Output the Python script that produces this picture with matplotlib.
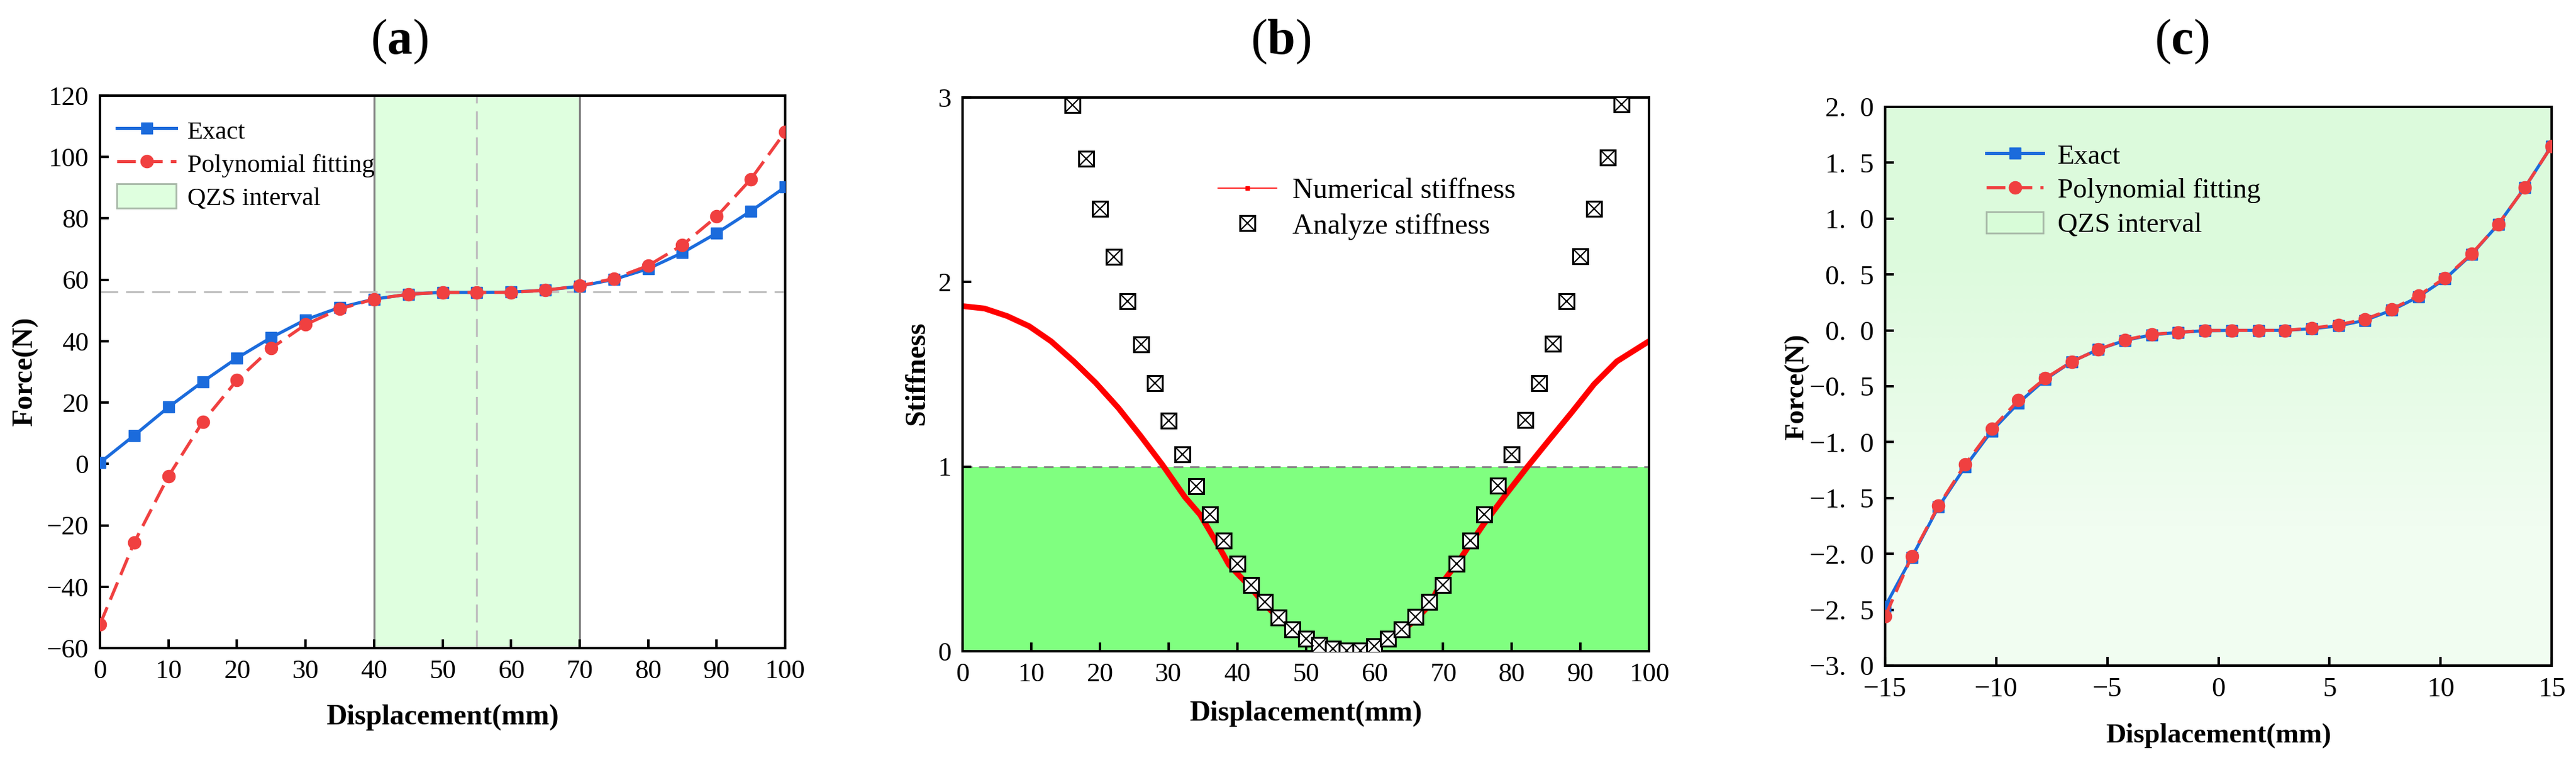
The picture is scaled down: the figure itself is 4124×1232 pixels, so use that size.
import numpy as np
import matplotlib
matplotlib.use("Agg")
import matplotlib.pyplot as plt
from matplotlib.lines import Line2D
from matplotlib.patches import Patch
from matplotlib.colors import LinearSegmentedColormap

plt.rcParams['font.family'] = ['Liberation Serif', 'DejaVu Serif']
plt.rcParams['mathtext.fontset'] = 'custom'
plt.rcParams['mathtext.rm'] = 'Liberation Serif'
plt.rcParams['mathtext.bf'] = 'Liberation Serif:bold'
plt.rcParams['axes.unicode_minus'] = True

# ---------------- data ----------------
# (a) force-displacement
a_x = [0, 5, 10, 15, 20, 25, 30, 35, 40, 45, 50, 55, 60, 65, 70, 75, 80, 85, 90, 95, 100]
a_exact = [0.4, 9.3, 18.5, 26.8, 34.5, 41.2, 47.0, 51.0, 53.7, 55.3, 55.9, 55.9, 56.0, 56.6,
           57.9, 60.1, 63.6, 68.8, 75.2, 82.4, 90.2]
a_poly = [-52.3, -25.6, -4.0, 13.7, 27.3, 37.7, 45.4, 50.5, 53.7, 55.3, 55.9, 55.9, 55.9, 56.6,
          58.0, 60.4, 64.6, 71.3, 80.6, 92.8, 108.2]
a_qzs = [40, 70]
a_eq_disp = 55
a_eq_force = 56
a_xticks = [0, 10, 20, 30, 40, 50, 60, 70, 80, 90, 100]
a_yticks = [-60, -40, -20, 0, 20, 40, 60, 80, 100, 120]

# (b) stiffness
b_num_x = [0, 3.2, 6.5, 9.7, 12.9, 16.2, 19.4, 22.7, 25.9, 29.1, 32.4, 34.6, 36.9, 38.8, 41.7,
           43.9, 46, 48, 50, 52, 54, 56, 58, 60, 62, 64, 66, 68, 69.3, 72.6, 75.8, 79.1, 82.3,
           85.5, 88.8, 92.0, 95.3, 100]
b_num_y = [1.870, 1.857, 1.816, 1.761, 1.679, 1.570, 1.454, 1.318, 1.168, 1.011, 0.835, 0.74,
           0.595, 0.469, 0.356, 0.26, 0.18, 0.115, 0.065, 0.032, 0.012, 0.003, 0.003, 0.025,
           0.062, 0.11, 0.17, 0.25, 0.342, 0.506, 0.683, 0.847, 1.0, 1.147, 1.297, 1.447,
           1.570, 1.68]
b_ana_x = [16, 18, 20, 22, 24, 26, 28, 30, 32, 34, 36, 38, 40, 42, 44, 46, 48, 50, 52, 54, 56,
           58, 60, 62, 64, 66, 68, 70, 72, 74, 76, 78, 80, 82, 84, 86, 88, 90, 92, 94, 96]
b_ana_y = [2.96, 2.667, 2.396, 2.138, 1.895, 1.664, 1.451, 1.251, 1.065, 0.895, 0.740, 0.599,
           0.474, 0.360, 0.266, 0.184, 0.120, 0.067, 0.035, 0.013, 0.005, 0.005, 0.027, 0.067,
           0.120, 0.187, 0.266, 0.360, 0.474, 0.599, 0.740, 0.897, 1.068, 1.254, 1.451, 1.667,
           1.895, 2.140, 2.398, 2.675, 2.963]
b_threshold = 1
b_xticks = [0, 10, 20, 30, 40, 50, 60, 70, 80, 90, 100]
b_yticks = [0, 1, 2, 3]

# (c) force near equilibrium
c_x = [-15, -13.8, -12.6, -11.4, -10.2, -9.0, -7.8, -6.6, -5.4, -4.2, -3.0, -1.8, -0.6,
       0.6, 1.8, 3.0, 4.2, 5.4, 6.6, 7.8, 9.0, 10.2, 11.4, 12.6, 13.8, 15]
c_exact = [-2.47, -2.03, -1.58, -1.22, -0.90, -0.65, -0.44, -0.28, -0.17, -0.09, -0.04, -0.018,
           -0.003, 0.0, 0.0, 0.0, 0.015, 0.04, 0.09, 0.18, 0.30, 0.46, 0.68, 0.95, 1.28, 1.65]
c_poly = [-2.56, -2.02, -1.57, -1.20, -0.88, -0.625, -0.43, -0.28, -0.17, -0.085, -0.035,
          -0.018, -0.001, 0.0, 0.0, 0.0, 0.02, 0.05, 0.10, 0.19, 0.31, 0.47, 0.685, 0.95,
          1.28, 1.65]
c_qzs = [-15, 15]
c_xticks = [-15, -10, -5, 0, 5, 10, 15]
c_yticks = [-3.0, -2.5, -2.0, -1.5, -1.0, -0.5, 0.0, 0.5, 1.0, 1.5, 2.0]
c_yticklabels = ["\u22123.  0", "\u22122.  5", "\u22122.  0", "\u22121.  5", "\u22121.  0",
                 "\u22120.  5", "0.  0", "0.  5", "1.  0", "1.  5", "2.  0"]

panel_titles = ["a", "b", "c"]

# ---------------- style ----------------
BLUE = "#1B6BDC"
RED = "#F04040"
W, H = 4124, 1232
fig = plt.figure(figsize=(W / 100, H / 100), dpi=100)

def frac_axes(l, r, t, b):
    return fig.add_axes([l / W, 1 - b / H, (r - l) / W, (b - t) / H])

def style_axes(ax, fs):
    for s in ax.spines.values():
        s.set_linewidth(2.8)
    ax.tick_params(direction="in", length=10, width=2.8, labelsize=fs, pad=13,
                   top=False, right=False)

# ---------------- (a) ----------------
ax = frac_axes(160, 1257, 153, 1037)
ax.axvspan(a_qzs[0], a_qzs[1], color="#DFFFDF", zorder=0, lw=0)
for v in a_qzs:
    ax.axvline(v, color="#808080", lw=2.3, zorder=1)
ax.axhline(a_eq_force, color="#C0C0C0", lw=2.3, dashes=(9, 4), zorder=1)
ax.axvline(a_eq_disp, color="#C0C0C0", lw=2.3, dashes=(9, 4), zorder=1)
ax.plot(a_x, a_exact, color=BLUE, lw=3.6, marker="s", ms=13.5, zorder=3)
ax.plot(a_x, a_poly, color=RED, lw=3.6, dashes=(6, 2.6), marker="o", ms=14.5, zorder=4)
ax.set_xlim(0, 100)
ax.set_ylim(-60, 120)
ax.set_xticks(a_xticks)
ax.set_yticks(a_yticks)
style_axes(ax, 31)
ax.set_xlabel("Displacement(mm)", fontsize=33, fontweight="bold", va="center")
ax.set_ylabel("Force(N)", fontsize=33, fontweight="bold", va="center")
ax.xaxis.set_label_coords(0.5, -0.1256)
ax.yaxis.set_label_coords(-0.109, 0.501)
hA = [Line2D([], [], color=BLUE, lw=3.6, marker="s", ms=13.5),
      Line2D([], [], color=RED, lw=3.6, dashes=(6, 2.6), marker="o", ms=14.5),
      Patch(facecolor="#DFFFDF", edgecolor="#A8B8A8", lw=2)]
ax.legend(hA, ["Exact", "Polynomial fitting", "QZS interval"], loc="upper left",
          bbox_to_anchor=(0.025, 0.96), borderaxespad=0, borderpad=0, frameon=False,
          fontsize=29.5, handlelength=2.3, handletextpad=0.45, labelspacing=0.25,
          handleheight=1.1)

# ---------------- (b) ----------------
ax = frac_axes(1541, 2640, 156, 1042)
ax.axhspan(0, b_threshold, color="#80FF80", zorder=0, lw=0)
ax.axhline(b_threshold, color="#888888", lw=2.2, dashes=(5, 3.5), zorder=1)
ax.plot(b_num_x, b_num_y, color="#FF0000", lw=6.6, solid_capstyle="butt",
        solid_joinstyle="round", zorder=2)
ax.plot(b_ana_x, b_ana_y, ls="none", marker="s", ms=17, mfc="white", mec="black", mew=2.2,
        zorder=3)
ax.plot(b_ana_x, b_ana_y, ls="none", marker="x", ms=17, mec="black", mew=1.5, zorder=4)
ax.set_xlim(0, 100)
ax.set_ylim(0, 3)
ax.set_xticks(b_xticks)
ax.set_yticks(b_yticks)
style_axes(ax, 31)
ax.set_xlabel("Displacement(mm)", fontsize=33, fontweight="bold", va="center")
ax.set_ylabel("Stiffness", fontsize=33, fontweight="bold", va="center")
ax.xaxis.set_label_coords(0.5, -0.1126)
ax.yaxis.set_label_coords(-0.0655, 0.502)
hB = [Line2D([], [], color="#FF0000", lw=1.2, marker="s", ms=5),
      (Line2D([], [], ls="none", marker="s", ms=17, mfc="white", mec="black", mew=2.2),
       Line2D([], [], ls="none", marker="x", ms=17, mec="black", mew=1.5))]
ax.legend(hB, ["Numerical stiffness", "Analyze stiffness"], loc="upper left",
          bbox_to_anchor=(0.372, 0.855), borderaxespad=0, borderpad=0, frameon=False,
          fontsize=33, handlelength=2.05, handletextpad=0.55, labelspacing=0.3)

# ---------------- (c) ----------------
ax = frac_axes(3018, 4085, 171, 1065)
cmap = LinearSegmentedColormap.from_list("qzs", ["#F1FDF1", "#DCFADC"])
ax.imshow(np.array([[1.0], [0.0]]), cmap=cmap, aspect="auto", interpolation="bilinear",
          extent=[c_qzs[0], c_qzs[1], -3, 2], zorder=0)
ax.plot(c_x, c_exact, color=BLUE, lw=3.6, marker="s", ms=13.5, zorder=3)
ax.plot(c_x, c_poly, color=RED, lw=3.6, dashes=(6, 2.6), marker="o", ms=14.5, zorder=4)
ax.set_xlim(-15, 15)
ax.set_ylim(-3, 2)
ax.set_xticks(c_xticks)
ax.set_yticks(c_yticks)
ax.set_yticklabels(c_yticklabels)
style_axes(ax, 32)
ax.set_xlabel("Displacement(mm)", fontsize=32, fontweight="bold", va="center")
ax.set_ylabel("Force(N)", fontsize=32, fontweight="bold", va="center")
ax.xaxis.set_label_coords(0.5, -0.125)
ax.yaxis.set_label_coords(-0.132, 0.499)
hC = [Line2D([], [], color=BLUE, lw=3.6, marker="s", ms=13.5),
      Line2D([], [], color=RED, lw=3.6, dashes=(6, 2.6), marker="o", ms=14.5),
      Patch(facecolor="#D8FCD8", edgecolor="#A8B8A8", lw=2)]
ax.legend(hC, ["Exact", "Polynomial fitting", "QZS interval"], loc="upper left",
          bbox_to_anchor=(0.152, 0.935), borderaxespad=0, borderpad=0, frameon=False,
          fontsize=32, handlelength=2.05, handletextpad=0.5, labelspacing=0.3,
          handleheight=0.8)

# ---------------- titles ----------------
for t, xc in zip(panel_titles, [639, 2050, 3493]):
    fig.text(xc / W, 1 - 67 / H, r"($\mathbf{%s}$)" % t, fontsize=58, ha="center", va="center")

fig.savefig("out.png", dpi=100)
